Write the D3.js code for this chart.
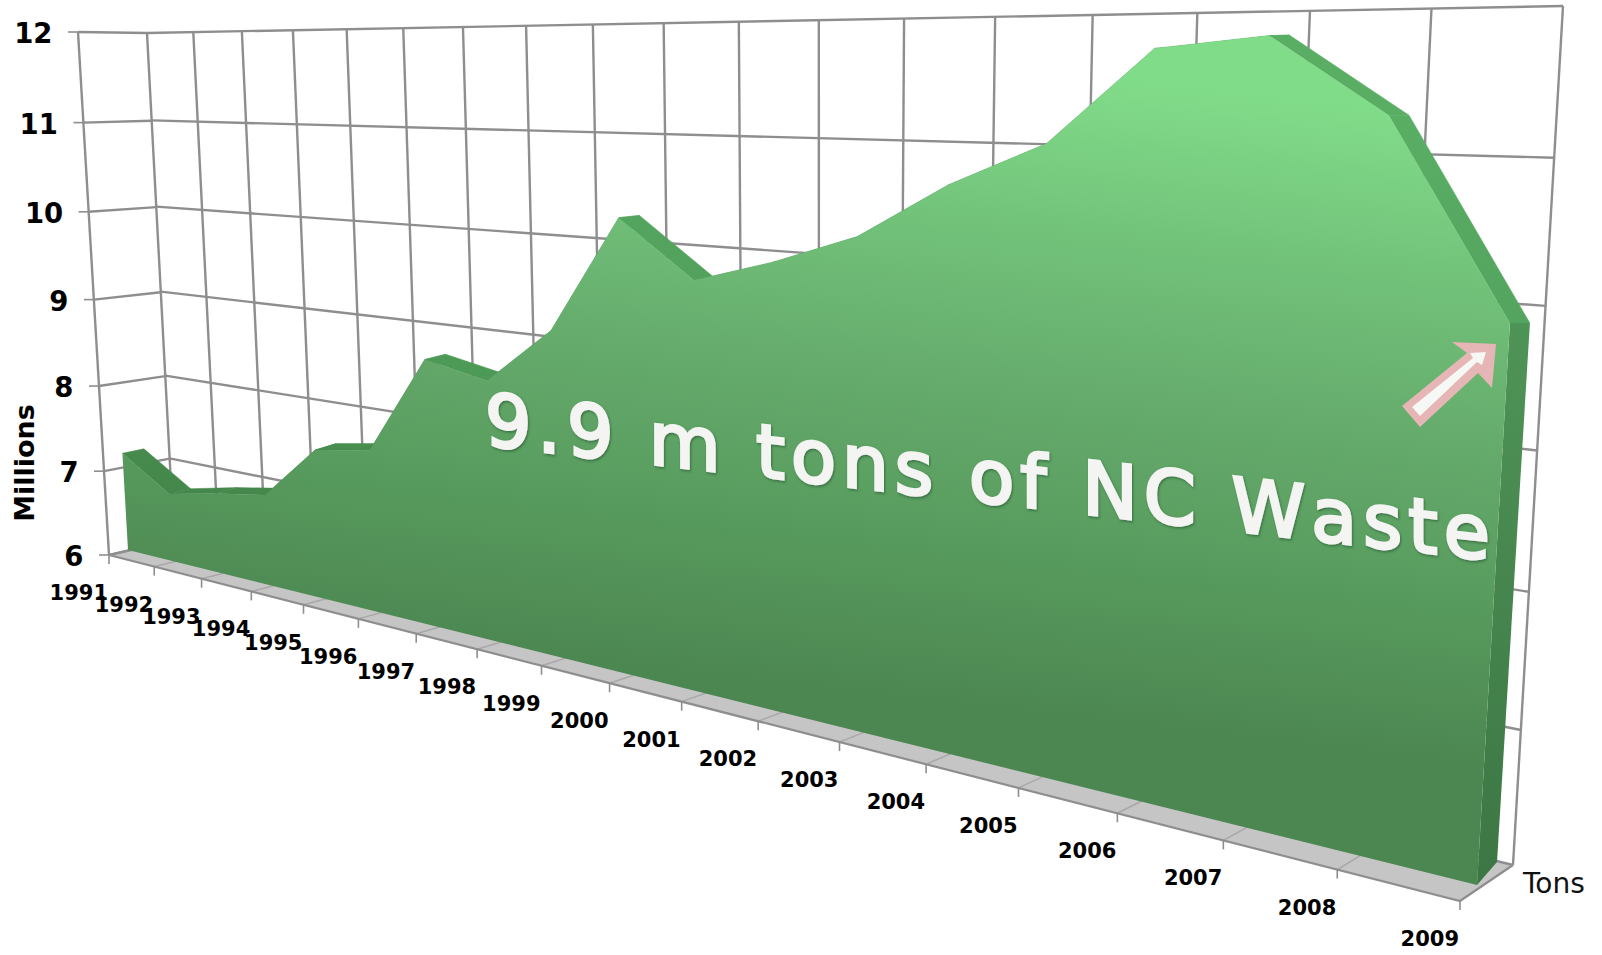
<!DOCTYPE html>
<html>
<head>
<meta charset="utf-8">
<script src="https://cdn.jsdelivr.net/npm/d3@7"></script>
<style>
  html, body { margin: 0; padding: 0; background: #fff; }
  text { font-family: "DejaVu Sans", Verdana, sans-serif; }
</style>
</head>
<body>
<svg id="chart" width="1602" height="955"></svg>
<script>
// Data
const years = [1991,1992,1993,1994,1995,1996,1997,1998,1999,2000,2001,2002,2003,2004,2005,2006,2007,2008,2009];
const tons = [7.16,6.79,6.91,7.01,7.61,7.71,8.73,8.6,9.16,10.25,9.74,9.95,10.21,10.66,11.0,11.7,11.78,11.24,9.9];
const valueTicks = [6,7,8,9,10,11,12];
const noteText = "9.9 m tons of NC Waste";

const GRID = "#8f8d90";
const svg = d3.select("#chart");
const defs = svg.append("defs");

const tScale = d3.scaleLinear().domain([1991, 2009]).range([0, 1]);
const vScale = d3.scaleLinear().domain([6, 12]).range([0, 1]);

// unit square -> quad (corners: u0v0, u1v0, u1v1, u0v1)
function quadMap(p0, p1, p2, p3) {
  const dx1 = p1[0]-p2[0], dx2 = p3[0]-p2[0], sx = p0[0]-p1[0]+p2[0]-p3[0];
  const dy1 = p1[1]-p2[1], dy2 = p3[1]-p2[1], sy = p0[1]-p1[1]+p2[1]-p3[1];
  const den = dx1*dy2 - dx2*dy1;
  const g = (sx*dy2 - dx2*sy)/den, h = (dx1*sy - sx*dy1)/den;
  const a = p1[0]-p0[0]+g*p1[0], b = p3[0]-p0[0]+h*p3[0], c = p0[0];
  const d = p1[1]-p0[1]+g*p1[1], e = p3[1]-p0[1]+h*p3[1], f = p0[1];
  return (u, v) => {
    const w = g*u + h*v + 1;
    return [(a*u + b*v + c)/w, (d*u + e*v + f)/w];
  };
}

// the planes of the 3D box, and the front of the slab
const backWall = quadMap([174,540],[1513,865],[1563,6],[147,33]);
const leftWall = quadMap([109,555],[174,540],[147,33],[78,32]);
const floor = quadMap([109,555],[1460,901],[1513,865],[170,541]);
const slabFront = quadMap([128,550],[1477,885],[1529,-3],[98,32]);

const front = (yr, v) => slabFront(tScale(yr), vScale(v));
// back edge of the slab: the front pushed right, and up less and less with height
const back = (yr, v) => {
  const p = front(yr, v), u = tScale(yr);
  const dyRight = Math.min(0, -23*(1-(v-6)/3.9));
  return [p[0] + 21.5 - 1.5*u, p[1] - 4.5 + (dyRight + 4.5)*u];
};
const poly = d3.line();

// floor
svg.append("path")
  .attr("d", poly([floor(0,0), floor(1,0), floor(1,1), floor(0,1)]) + "Z")
  .attr("fill", "#c6c5c5");
svg.append("g").selectAll("line").data(years).join("line")
  .attr("x1", d => floor(tScale(d),0)[0]).attr("y1", d => floor(tScale(d),0)[1])
  .attr("x2", d => floor(tScale(d),1)[0]).attr("y2", d => floor(tScale(d),1)[1])
  .attr("stroke", "#a9a7a8").attr("stroke-width", 1.5);
svg.append("path")
  .attr("d", poly([floor(0,1), floor(0,0), floor(1,0), floor(1,1)]))
  .attr("fill", "none").attr("stroke", GRID).attr("stroke-width", 2.2);

// back wall grid
const grid = svg.append("g").attr("fill", "none").attr("stroke", GRID).attr("stroke-width", 2.4);
grid.selectAll(".vy").data(years).join("line").attr("class", "vy")
  .attr("x1", d => backWall(tScale(d),0)[0]).attr("y1", d => backWall(tScale(d),0)[1])
  .attr("x2", d => backWall(tScale(d),1)[0]).attr("y2", d => backWall(tScale(d),1)[1]);
grid.selectAll(".hy").data(valueTicks).join("line").attr("class", "hy")
  .attr("x1", d => backWall(0,vScale(d))[0]).attr("y1", d => backWall(0,vScale(d))[1])
  .attr("x2", d => backWall(1,vScale(d))[0]).attr("y2", d => backWall(1,vScale(d))[1]);
// left wall grid
grid.selectAll(".lw").data(valueTicks).join("line").attr("class", "lw")
  .attr("x1", d => leftWall(0,vScale(d))[0]).attr("y1", d => leftWall(0,vScale(d))[1])
  .attr("x2", d => leftWall(1,vScale(d))[0]).attr("y2", d => leftWall(1,vScale(d))[1]);
grid.append("line")
  .attr("x1", leftWall(0,0)[0]).attr("y1", leftWall(0,0)[1])
  .attr("x2", leftWall(0,1)[0]).attr("y2", leftWall(0,1)[1]);

// gradients run with the value, so take them across the slab
function slabGradient(id, stops) {
  const a = slabFront(0.5, 0), b = slabFront(0.5, 1);
  const iso = slabFront(1, 0.5), iso0 = slabFront(0, 0.5);
  const s = (iso[1]-iso0[1])/(iso[0]-iso0[0]);
  const len = ((a[1]-b[1]) + s*(b[0]-a[0]))/(1+s*s);
  const gr = defs.append("linearGradient").attr("id", id).attr("gradientUnits", "userSpaceOnUse")
    .attr("x1", a[0]).attr("y1", a[1])
    .attr("x2", a[0]+s*len).attr("y2", a[1]-len);
  gr.selectAll("stop").data(stops).join("stop")
    .attr("offset", d => d[0]).attr("stop-color", d => d[1]);
}
slabGradient("faceFill", [[0,"#4c8651"],[0.25,"#579a5d"],[0.5,"#65ab6c"],[0.75,"#72c27a"],[1,"#81dc89"]]);
slabGradient("bandFill", [[0,"#3f7a45"],[0.25,"#468a4d"],[0.5,"#4f9e59"],[0.75,"#55a660"],[1,"#59ae64"]]);

// top of the slab: one quad per span
const spans = d3.pairs(d3.zip(years, tons));
svg.append("g").selectAll("path").data(spans).join("path")
  .attr("d", ([a, b]) => poly([front(a[0],a[1]), front(b[0],b[1]), back(b[0],b[1]), back(a[0],a[1])]) + "Z")
  .attr("fill", "url(#bandFill)").attr("stroke", "url(#bandFill)").attr("stroke-width", 0.5);

// right end of the slab
const lastYear = years[years.length-1], lastTons = tons[tons.length-1];
const endFill = defs.append("linearGradient").attr("id", "endFill").attr("x1", 0).attr("y1", 0).attr("x2", 0).attr("y2", 1);
endFill.append("stop").attr("offset", 0).attr("stop-color", "#4f9457");
endFill.append("stop").attr("offset", 1).attr("stop-color", "#3c7644");
svg.append("path")
  .attr("d", poly([front(lastYear,6), back(lastYear,6), back(lastYear,lastTons), front(lastYear,lastTons)]) + "Z")
  .attr("fill", "url(#endFill)");

// front face
const facePts = [front(years[0],6)].concat(years.map((y,i) => front(y,tons[i])), [front(lastYear,6)]);
svg.append("path").attr("d", poly(facePts) + "Z").attr("fill", "url(#faceFill)");

// ticks
svg.append("g").selectAll("line").data(years).join("line")
  .attr("x1", d => floor(tScale(d),0)[0]).attr("y1", d => floor(tScale(d),0)[1])
  .attr("x2", d => floor(tScale(d),0)[0]).attr("y2", d => floor(tScale(d),0)[1]+9)
  .attr("stroke", GRID).attr("stroke-width", 1.6);
svg.append("g").selectAll("line").data(valueTicks).join("line")
  .attr("x1", d => leftWall(0,vScale(d))[0]-10).attr("y1", d => leftWall(0,vScale(d))[1])
  .attr("x2", d => leftWall(0,vScale(d))[0]).attr("y2", d => leftWall(0,vScale(d))[1])
  .attr("stroke", GRID).attr("stroke-width", 1.6);

// labels (the first few do touch each other in the original too)
svg.append("g").selectAll("text").data(years).join("text")
  .attr("x", d => floor(tScale(d),0)[0]-1)
  .attr("y", d => floor(tScale(d),0)[1]+38)
  .attr("text-anchor", "end").attr("dominant-baseline", "central")
  .attr("font-size", 21).attr("font-weight", "bold").attr("fill", "#000")
  .text(d => d);
svg.append("g").selectAll("text").data(valueTicks).join("text")
  .attr("x", d => leftWall(0,vScale(d))[0]-25.5)
  .attr("y", d => leftWall(0,vScale(d))[1]+1)
  .attr("text-anchor", "end").attr("dominant-baseline", "central")
  .attr("font-size", 27.5).attr("font-weight", "bold").attr("fill", "#000")
  .text(d => d);
svg.append("text").attr("transform", "translate(24,463) rotate(-90)")
  .attr("text-anchor", "middle").attr("dominant-baseline", "central")
  .attr("font-size", 27).attr("font-weight", "bold").attr("fill", "#000")
  .text("Millions");
svg.append("text").attr("x", 1523).attr("y", 893)
  .attr("font-size", 28).attr("fill", "#111").text("Tons");

// note on the slab: glyph by glyph, sheared along the baseline
const shadow = defs.append("filter").attr("id", "noteShadow");
shadow.append("feDropShadow").attr("dx", 1).attr("dy", 1.5).attr("stdDeviation", 1)
  .attr("flood-color", "#2c5c33").attr("flood-opacity", 0.7);
const noteG = svg.append("g").attr("filter", "url(#noteShadow)");
const noteStart = [485, 445], noteEnd = [1489, 560];
const slope = (noteEnd[1]-noteStart[1])/(noteEnd[0]-noteStart[0]);
const sizeAt = d3.scaleLinear().domain([noteStart[0], noteEnd[0]]).range([73, 75]);
const probe = svg.append("text").attr("font-size", 100).attr("opacity", 0);
const adv = noteText.split("").map(c => {
  probe.text(c === " " ? "n" : c);
  return c === " " ? 0.318 : probe.node().getComputedTextLength()/100;
});
probe.remove();
let nx = noteStart[0];
const track = 6.1;
noteText.split("").forEach((c, i) => {
  const fs = sizeAt(nx);
  if (c !== " ") {
    noteG.append("text")
      .attr("transform", `matrix(1,${slope},0,1,${nx},${noteStart[1]+(nx-noteStart[0])*slope})`)
      .attr("font-size", fs).attr("fill", "#f4f5f3")
      .attr("stroke", "#f4f5f3").attr("stroke-width", 3)
      .text(c);
  }
  nx += adv[i]*fs + track;
});

// arrow pointing at the last value
const arrowOuter = [[1402,406],[1467,353],[1452,342],[1496,344],[1492,388],[1478,373],[1420,427]];
const arrowInner = [[1412,407],[1473,358],[1470,353],[1486,352],[1482,365],[1477,362],[1420,416]];
svg.append("path").attr("d", poly(arrowOuter) + "Z").attr("fill", "#e6b5b5");
svg.append("path").attr("d", poly(arrowInner) + "Z").attr("fill", "#f6f8f5");
</script>
</body>
</html>
